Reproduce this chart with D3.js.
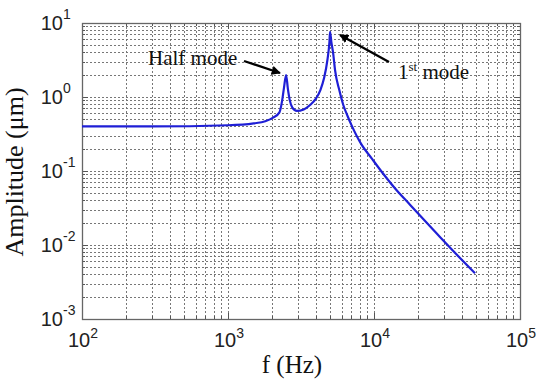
<!DOCTYPE html>
<html><head><meta charset="utf-8">
<script src="https://cdn.jsdelivr.net/npm/d3@7"></script>
<style>body{margin:0;background:#fff}</style>
</head><body>
<svg id="chart" width="537" height="382"></svg>
<script>
// Data
const freq = [100, 300, 1000, 1500, 1800, 2050, 2250, 2350, 2420, 2500, 2570, 2650, 2760, 2960, 3300, 3650, 4000, 4300, 4550, 4800, 4950, 5000, 5100, 5260, 5410, 5780, 6160, 6600, 7000, 8240, 9640, 11600, 14000, 17700, 26900, 32500, 49200];
const amp  = [0.40, 0.40, 0.415, 0.44, 0.47, 0.53, 0.62, 0.9, 1.35, 1.98, 1.3, 0.9, 0.72, 0.65, 0.68, 0.78, 0.95, 1.25, 1.8, 3.2, 5.5, 7.6, 5.6, 3.8, 2.3, 1.25, 0.78, 0.55, 0.42, 0.225, 0.148, 0.091, 0.0575, 0.0348, 0.0143, 0.0096, 0.00415];
const xTickExp = [2, 3, 4, 5];
const yTickExp = [-3, -2, -1, 0, 1];
const xLabel = "f (Hz)";
const yLabel = "Amplitude (\u03bcm)";

const svg = d3.select("#chart");
const L = 82, R = 520, T = 23, B = 319;
const x = d3.scaleLog().domain([1e2, 1e5]).range([L, R]);
const y = d3.scaleLog().domain([1e-3, 1e1]).range([B, T]);

// grid
const gx = [], gy = [];
for (let e = 2; e < 5; e++) for (let m = 1; m < 10; m++) { const v = m * Math.pow(10, e); if (v > 100) gx.push(v); }
for (let e = -3; e < 1; e++) for (let m = 1; m < 10; m++) { const v = m * Math.pow(10, e); if (v > 1e-3) gy.push(v); }
gy.push(10); gx.push(1e5);
const grid = svg.append("g").attr("stroke", "#777").attr("stroke-width", 1).attr("stroke-dasharray", "2,2");
grid.selectAll("line.gx").data(gx.filter(v => v < 1e5)).join("line")
  .attr("x1", d => Math.round(x(d)) + 0.5).attr("x2", d => Math.round(x(d)) + 0.5).attr("y1", T).attr("y2", B);
grid.selectAll("line.gy").data(gy.filter(v => v < 10)).join("line")
  .attr("y1", d => Math.round(y(d)) + 0.5).attr("y2", d => Math.round(y(d)) + 0.5).attr("x1", L).attr("x2", R);

// ticks (inward)
const tk = svg.append("g").attr("stroke", "#555").attr("stroke-width", 1);
gx.forEach(v => {
  const len = Math.abs(Math.log10(v) - Math.round(Math.log10(v))) < 1e-9 ? 6 : 3;
  const px = Math.round(x(v)) + 0.5;
  tk.append("line").attr("x1", px).attr("x2", px).attr("y1", B).attr("y2", B - len);
  tk.append("line").attr("x1", px).attr("x2", px).attr("y1", T).attr("y2", T + len);
});
gy.forEach(v => {
  const len = Math.abs(Math.log10(v) - Math.round(Math.log10(v))) < 1e-9 ? 6 : 3;
  const py = Math.round(y(v)) + 0.5;
  tk.append("line").attr("y1", py).attr("y2", py).attr("x1", L).attr("x2", L + len);
  tk.append("line").attr("y1", py).attr("y2", py).attr("x1", R).attr("x2", R - len);
});

// box
svg.append("rect").attr("x", L + 0.5).attr("y", T + 0.5).attr("width", R - L).attr("height", B - T)
  .attr("fill", "none").attr("stroke", "#666").attr("stroke-width", 1.3);

// curve
const pts = freq.map((f, i) => [f, amp[i]]);
svg.append("path").datum(pts)
  .attr("d", d3.line().x(d => x(d[0])).y(d => y(d[1])).curve(d3.curveMonotoneX))
  .attr("fill", "none").attr("stroke", "#1f1fd6").attr("stroke-width", 2.2);

// tick labels
const sans = "Arial, 'Liberation Sans', sans-serif";
xTickExp.forEach(e => {
  const t = svg.append("text").attr("x", x(Math.pow(10, e)) + 1).attr("y", 347)
    .attr("text-anchor", "middle").attr("font-family", sans).attr("font-size", 20).attr("fill", "#222");
  t.append("tspan").text("10");
  t.append("tspan").attr("font-size", 14).attr("dy", -9).text(String(e));
});
yTickExp.forEach(e => {
  const py = y(Math.pow(10, e));
  svg.append("text").attr("x", 63).attr("y", py + 7).attr("text-anchor", "end")
    .attr("font-family", sans).attr("font-size", 20).attr("fill", "#222").text("10");
  svg.append("text").attr("x", 63).attr("y", py - 4).attr("text-anchor", "start")
    .attr("font-family", sans).attr("font-size", 14).attr("fill", "#222").text(e < 0 ? "-" + Math.abs(e) : String(e));
});

// axis labels
const serif = "'Times New Roman', 'Liberation Serif', serif";
svg.append("text").attr("x", 292).attr("y", 373).attr("text-anchor", "middle")
  .attr("font-family", serif).attr("font-size", 25).attr("fill", "#111").text(xLabel);
svg.append("text").attr("transform", "translate(23,172) rotate(-90)").attr("text-anchor", "middle")
  .attr("font-family", serif).attr("font-size", 26).attr("fill", "#111").text(yLabel);

// annotations
svg.append("defs").append("marker").attr("id", "ah").attr("viewBox", "0 0 10 10")
  .attr("refX", 9).attr("refY", 5).attr("markerWidth", 4).attr("markerHeight", 4)
  .attr("orient", "auto").attr("markerUnits", "strokeWidth")
  .append("path").attr("d", "M0,0 L10,5 L0,10 z").attr("fill", "#000");

svg.append("text").attr("x", 148).attr("y", 65).attr("font-family", serif).attr("font-size", 21)
  .attr("fill", "#111").text("Half mode");
svg.append("line").attr("x1", 244).attr("y1", 61).attr("x2", 280).attr("y2", 73)
  .attr("stroke", "#000").attr("stroke-width", 2.3).attr("marker-end", "url(#ah)");

const t1 = svg.append("text").attr("x", 398).attr("y", 79).attr("font-family", serif).attr("font-size", 21).attr("fill", "#111");
t1.append("tspan").text("1");
t1.append("tspan").attr("font-size", 13).attr("dy", -8).text("st");
t1.append("tspan").attr("dy", 8).text(" mode");
svg.append("line").attr("x1", 389).attr("y1", 62).attr("x2", 340).attr("y2", 35)
  .attr("stroke", "#000").attr("stroke-width", 2.3).attr("marker-end", "url(#ah)");
</script>
</body></html>
